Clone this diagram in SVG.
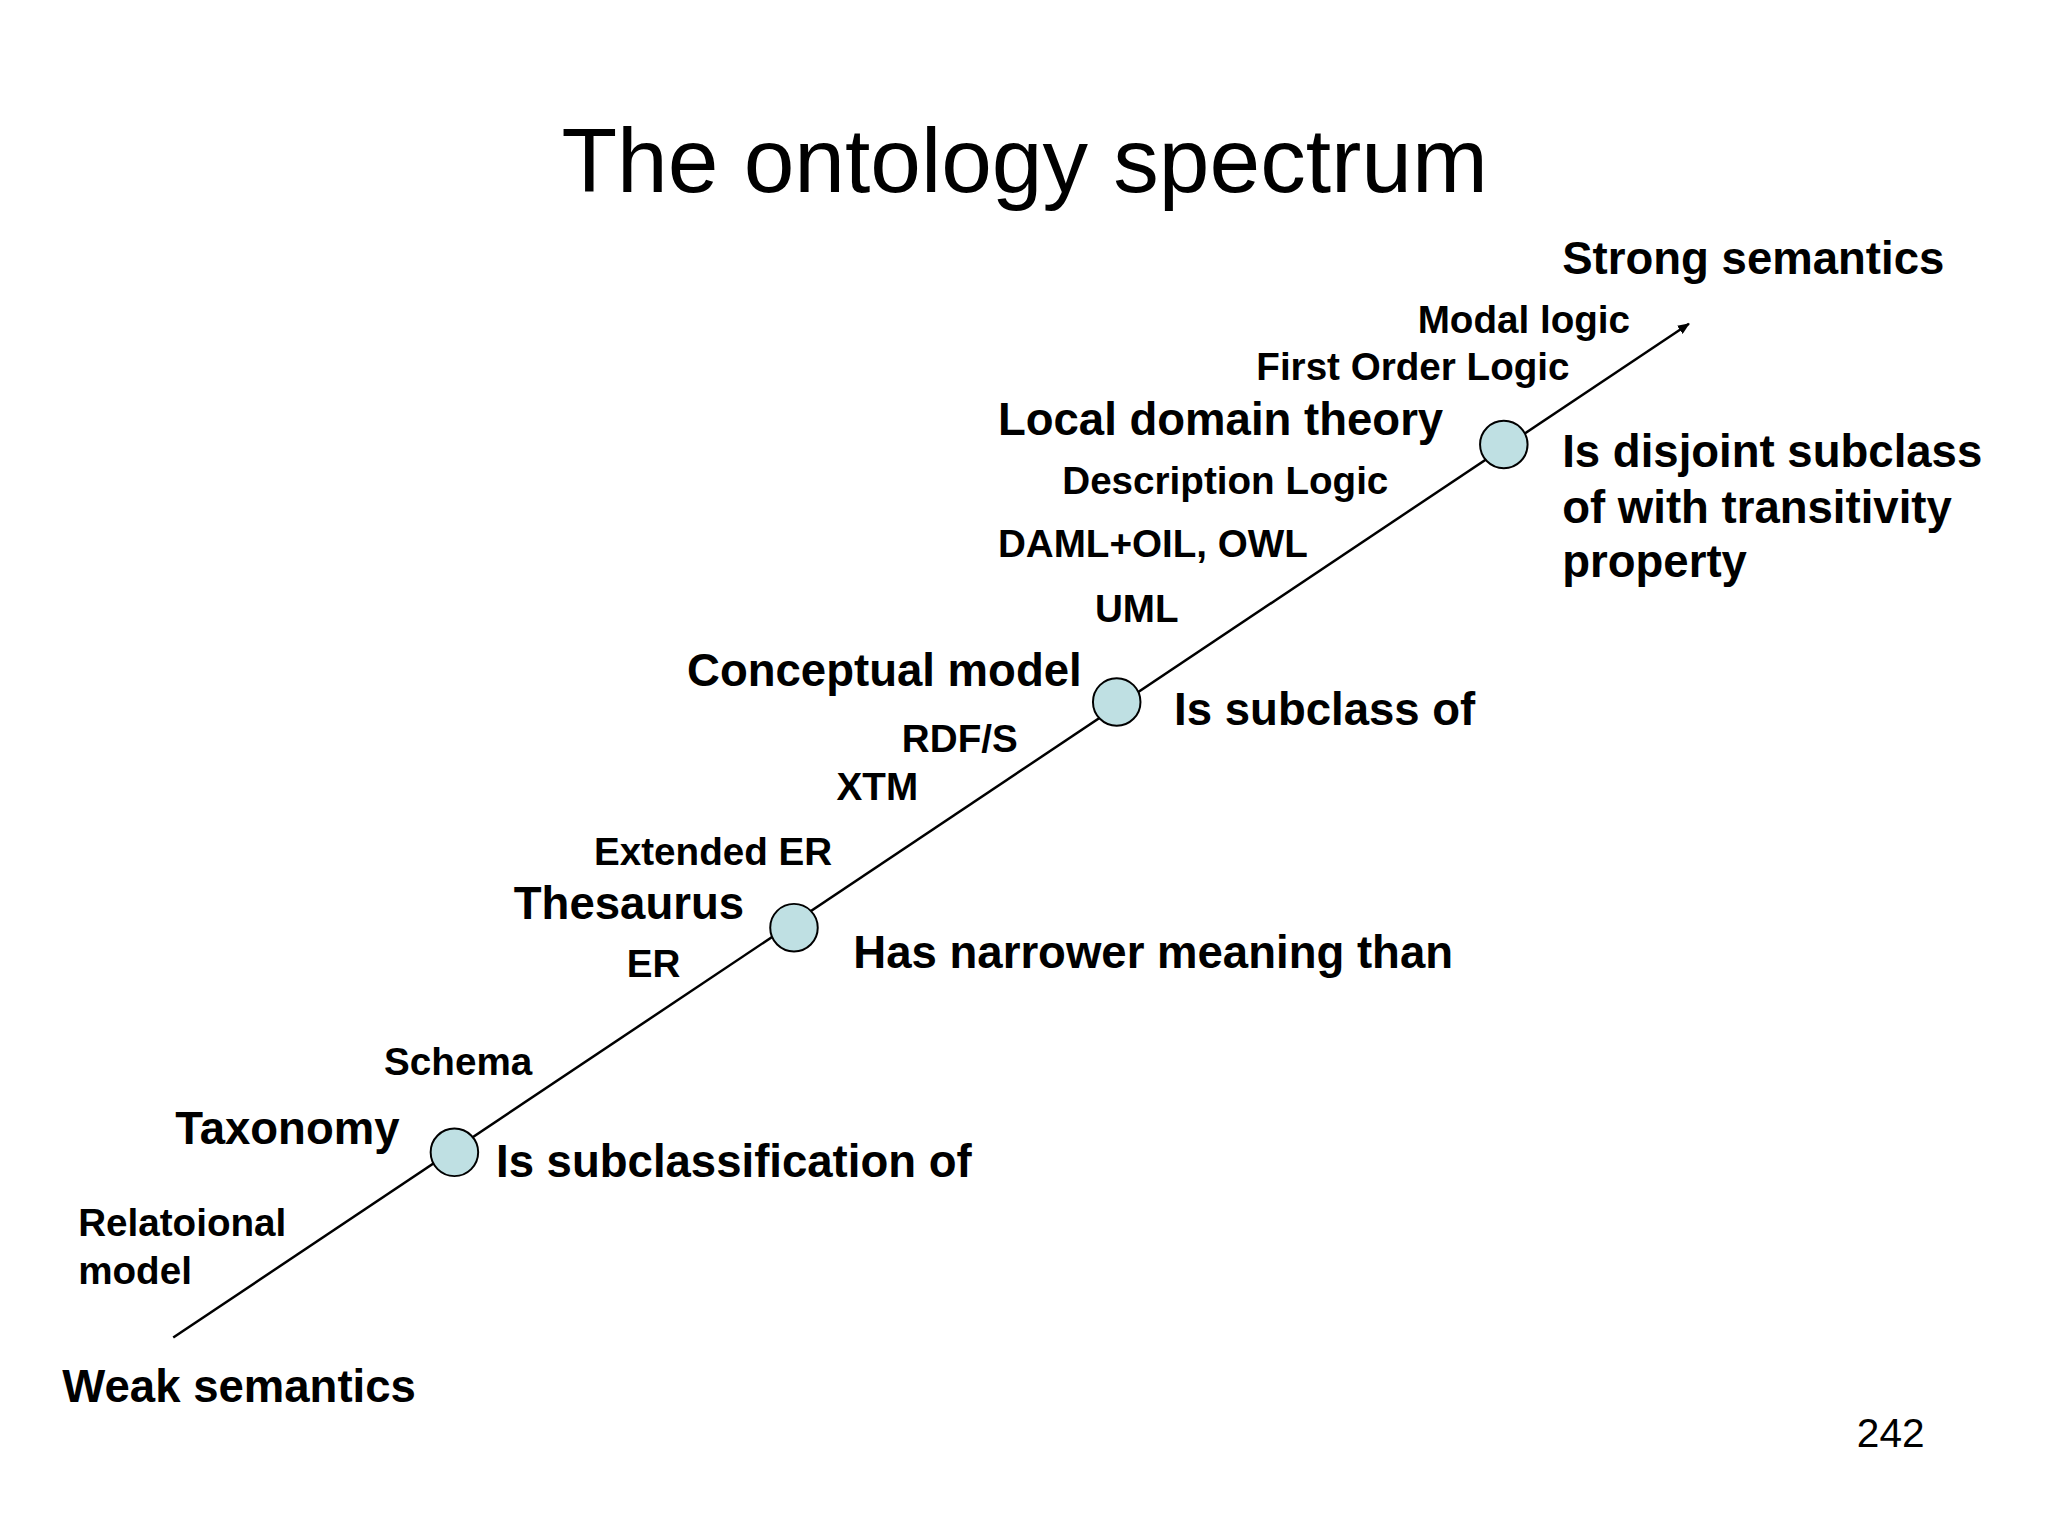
<svg xmlns="http://www.w3.org/2000/svg" width="2048" height="1536" viewBox="0 0 2048 1536">
<style>
text{font-family:"Liberation Sans",Arial,sans-serif;fill:#000}
.b{font-weight:bold;font-size:46px}
.s{font-weight:bold;font-size:39px}
.n{fill:#bfe0e3;stroke:#000;stroke-width:2}
</style>
<defs><marker id="ah" markerWidth="12" markerHeight="10" refX="11" refY="5" orient="auto" markerUnits="userSpaceOnUse"><path d="M0,0 L12,5 L0,10 z" fill="#000"/></marker></defs>
<rect width="2048" height="1536" fill="#fff"/>
<g transform="scale(0.99)">
<text x="1035" y="194" font-size="92" text-anchor="middle">The ontology spectrum</text>
<g id="connectors"><line x1="175" y1="1351" x2="1706" y2="327" stroke="#000" stroke-width="2.5" marker-end="url(#ah)"/></g>
<g id="n1"><circle class="n" cx="459" cy="1164" r="24"/></g>
<g id="n2"><circle class="n" cx="802" cy="937" r="24"/></g>
<g id="n3"><circle class="n" cx="1128" cy="709" r="24"/></g>
<g id="n4"><circle class="n" cx="1519" cy="449" r="24"/></g>
<text class="b" x="1578" y="277">Strong semantics</text>
<text class="s" x="1432" y="336">Modal logic</text>
<text class="s" x="1269" y="384">First Order Logic</text>
<text class="b" x="1008" y="439">Local domain theory</text>
<text class="s" x="1073" y="499">Description Logic</text>
<text class="s" x="1008" y="563">DAML+OIL, OWL</text>
<text class="s" x="1106" y="628">UML</text>
<text class="b" x="1578" y="472">Is disjoint subclass</text>
<text class="b" x="1578" y="528">of with transitivity</text>
<text class="b" x="1578" y="583">property</text>
<text class="b" x="694" y="693">Conceptual model</text>
<text class="b" x="1186" y="732">Is subclass of</text>
<text class="s" x="911" y="760">RDF/S</text>
<text class="s" x="845" y="808">XTM</text>
<text class="s" x="600" y="874">Extended ER</text>
<text class="b" x="519" y="928">Thesaurus</text>
<text class="s" x="633" y="987">ER</text>
<text class="b" x="862" y="978">Has narrower meaning than</text>
<text class="s" x="388" y="1086">Schema</text>
<text class="b" x="177" y="1156">Taxonomy</text>
<text class="b" x="501" y="1189">Is subclassification of</text>
<text class="s" x="79" y="1248">Relatoional</text>
<text class="s" x="79" y="1297">model</text>
<text class="b" x="63" y="1416">Weak semantics</text>
<text x="1944" y="1462" font-size="41" text-anchor="end">242</text>
</g>
</svg>
